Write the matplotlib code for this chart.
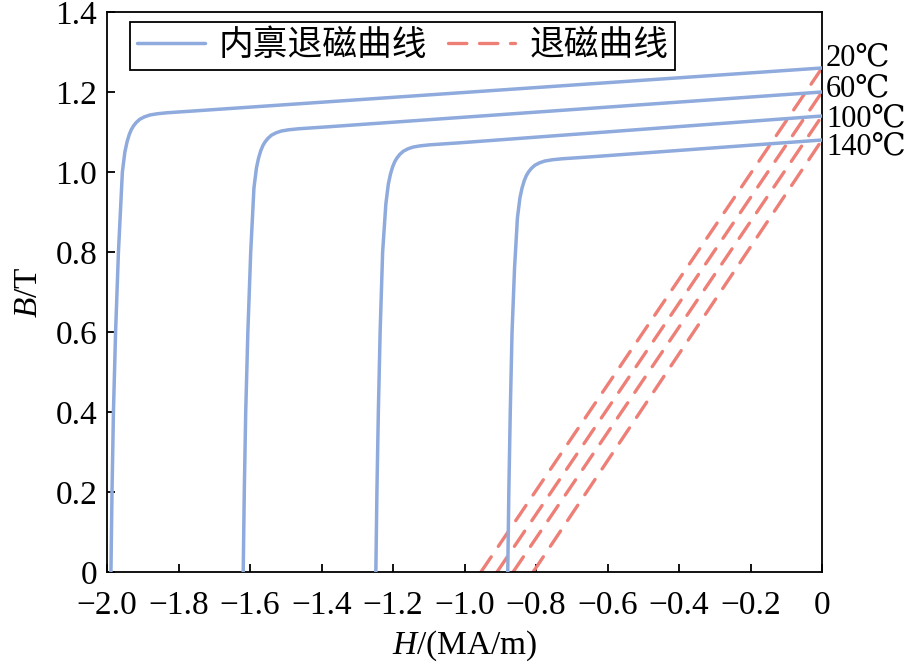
import matplotlib
matplotlib.use("Agg")
import matplotlib.pyplot as plt
from matplotlib.ticker import FixedLocator, FuncFormatter

plt.rcParams['font.family'] = ['Liberation Serif', 'DejaVu Serif']
plt.rcParams['mathtext.fontset'] = 'custom'
plt.rcParams['mathtext.rm'] = 'Liberation Serif'
plt.rcParams['mathtext.it'] = 'Liberation Serif:italic'

# ---- data ----
temps = ['20℃', '60℃', '100℃', '140℃']
label_B = [1.285, 1.207, 1.133, 1.064]

H_j20 = [-1.989, -1.986, -1.982, -1.976, -1.968, -1.957, -1.950, -1.944, -1.938, -1.932, -1.926,
         -1.918, -1.908, -1.895, -1.880, -1.860, -1.833, -1.80, -1.75, 0.0]
B_j20 = [0.0, 0.2, 0.4, 0.6, 0.8, 1.0, 1.050, 1.075, 1.093, 1.106, 1.115,
         1.124, 1.132, 1.138, 1.1425, 1.1455, 1.148, 1.150, 1.153, 1.26]
H_j60 = [-1.619, -1.616, -1.612, -1.606, -1.598, -1.589, -1.582, -1.576, -1.570, -1.564, -1.558,
         -1.550, -1.540, -1.527, -1.512, -1.492, -1.465, -1.432, -1.382, 0.0]
B_j60 = [0.0, 0.2, 0.4, 0.6, 0.8, 0.96, 1.010, 1.035, 1.053, 1.066, 1.075,
         1.084, 1.092, 1.098, 1.1025, 1.1055, 1.108, 1.110, 1.113, 1.20]
H_j100 = [-1.248, -1.245, -1.241, -1.236, -1.229, -1.220, -1.213, -1.207, -1.201, -1.195, -1.189,
          -1.181, -1.171, -1.158, -1.143, -1.123, -1.096, -1.063, -1.013, 0.0]
B_j100 = [0.0, 0.2, 0.4, 0.6, 0.8, 0.92, 0.970, 0.995, 1.013, 1.026, 1.035,
          1.044, 1.052, 1.058, 1.0625, 1.0655, 1.068, 1.070, 1.073, 1.14]
H_j140 = [-0.879, -0.876, -0.872, -0.867, -0.860, -0.852, -0.845, -0.839, -0.833, -0.827, -0.821,
          -0.813, -0.803, -0.790, -0.775, -0.755, -0.728, -0.695, -0.645, 0.0]
B_j140 = [0.0, 0.2, 0.4, 0.6, 0.76, 0.885, 0.935, 0.960, 0.978, 0.991, 1.000,
          1.009, 1.017, 1.023, 1.0275, 1.0305, 1.033, 1.035, 1.038, 1.08]

# normal demagnetization curves: (H at B=0, Br at H=0)
Hc = [-0.954, -0.909, -0.864, -0.808]
Br = [1.26, 1.20, 1.14, 1.08]

x_ticks = [-2.0, -1.8, -1.6, -1.4, -1.2, -1.0, -0.8, -0.6, -0.4, -0.2, 0.0]
y_ticks = [0.0, 0.2, 0.4, 0.6, 0.8, 1.0, 1.2, 1.4]

blue = '#8FAADC'
red = '#EE7F77'

fig = plt.figure(figsize=(9.14, 6.66), dpi=100)
ax = fig.add_axes([107/914, 1 - 572/666, 715/914, 560/666])

intrinsic = [(H_j20, B_j20), (H_j60, B_j60), (H_j100, B_j100), (H_j140, B_j140)]
for i, (h, b) in enumerate(intrinsic):
    ax.plot(h, b, color=blue, lw=2.5, solid_capstyle='round', solid_joinstyle='round',
            label='内禀退磁曲线' if i == 0 else None, zorder=3)
for i, (hc, br) in enumerate(zip(Hc, Br)):
    ax.plot([hc, 0.0], [0.0, br], color=red, lw=2.4, linestyle=(0, (5.5, 3.8)),
            dash_capstyle='round', label='退磁曲线' if i == 0 else None, zorder=2)

ax.set_xlim(-2.0, 0.0)
ax.set_ylim(0.0, 1.4)

ax.xaxis.set_major_locator(FixedLocator(x_ticks))
ax.yaxis.set_major_locator(FixedLocator(y_ticks))
ax.xaxis.set_major_formatter(FuncFormatter(lambda v, p: '0' if abs(v) < 1e-9 else ('%.1f' % v).replace('-', '\u2212')))
ax.yaxis.set_major_formatter(FuncFormatter(lambda v, p: '0' if abs(v) < 1e-9 else '%.1f' % v))
ax.tick_params(axis='both', direction='in', length=6, width=1.3, labelsize=24)
ax.tick_params(axis='x', pad=13)
ax.tick_params(axis='y', pad=7)
ax.tick_params(top=False, right=False)
for s in ax.spines.values():
    s.set_linewidth(1.3)

ax.set_xlabel(r'$H$/(MA/m)', fontsize=24, labelpad=6)
ax.set_ylabel(r'$B$/T', fontsize=24, labelpad=8)

for t, b in zip(temps, label_B):
    ax.text(0.011, b, t, fontsize=22, ha='left', va='center', clip_on=False,
            family=['Liberation Serif', 'DejaVu Serif', 'Noto Sans CJK SC'])

leg = ax.legend(loc='upper left', bbox_to_anchor=(0.032, 0.983), ncol=2, frameon=True,
                fancybox=False, edgecolor='black', framealpha=1, borderaxespad=0,
                handlelength=1.95, handletextpad=0.4, columnspacing=0.6, borderpad=0.2,
                prop={'family': ['Noto Sans CJK SC'], 'size': 25})
leg.get_frame().set_linewidth(1.3)

fig.savefig('out.png', dpi=100)
